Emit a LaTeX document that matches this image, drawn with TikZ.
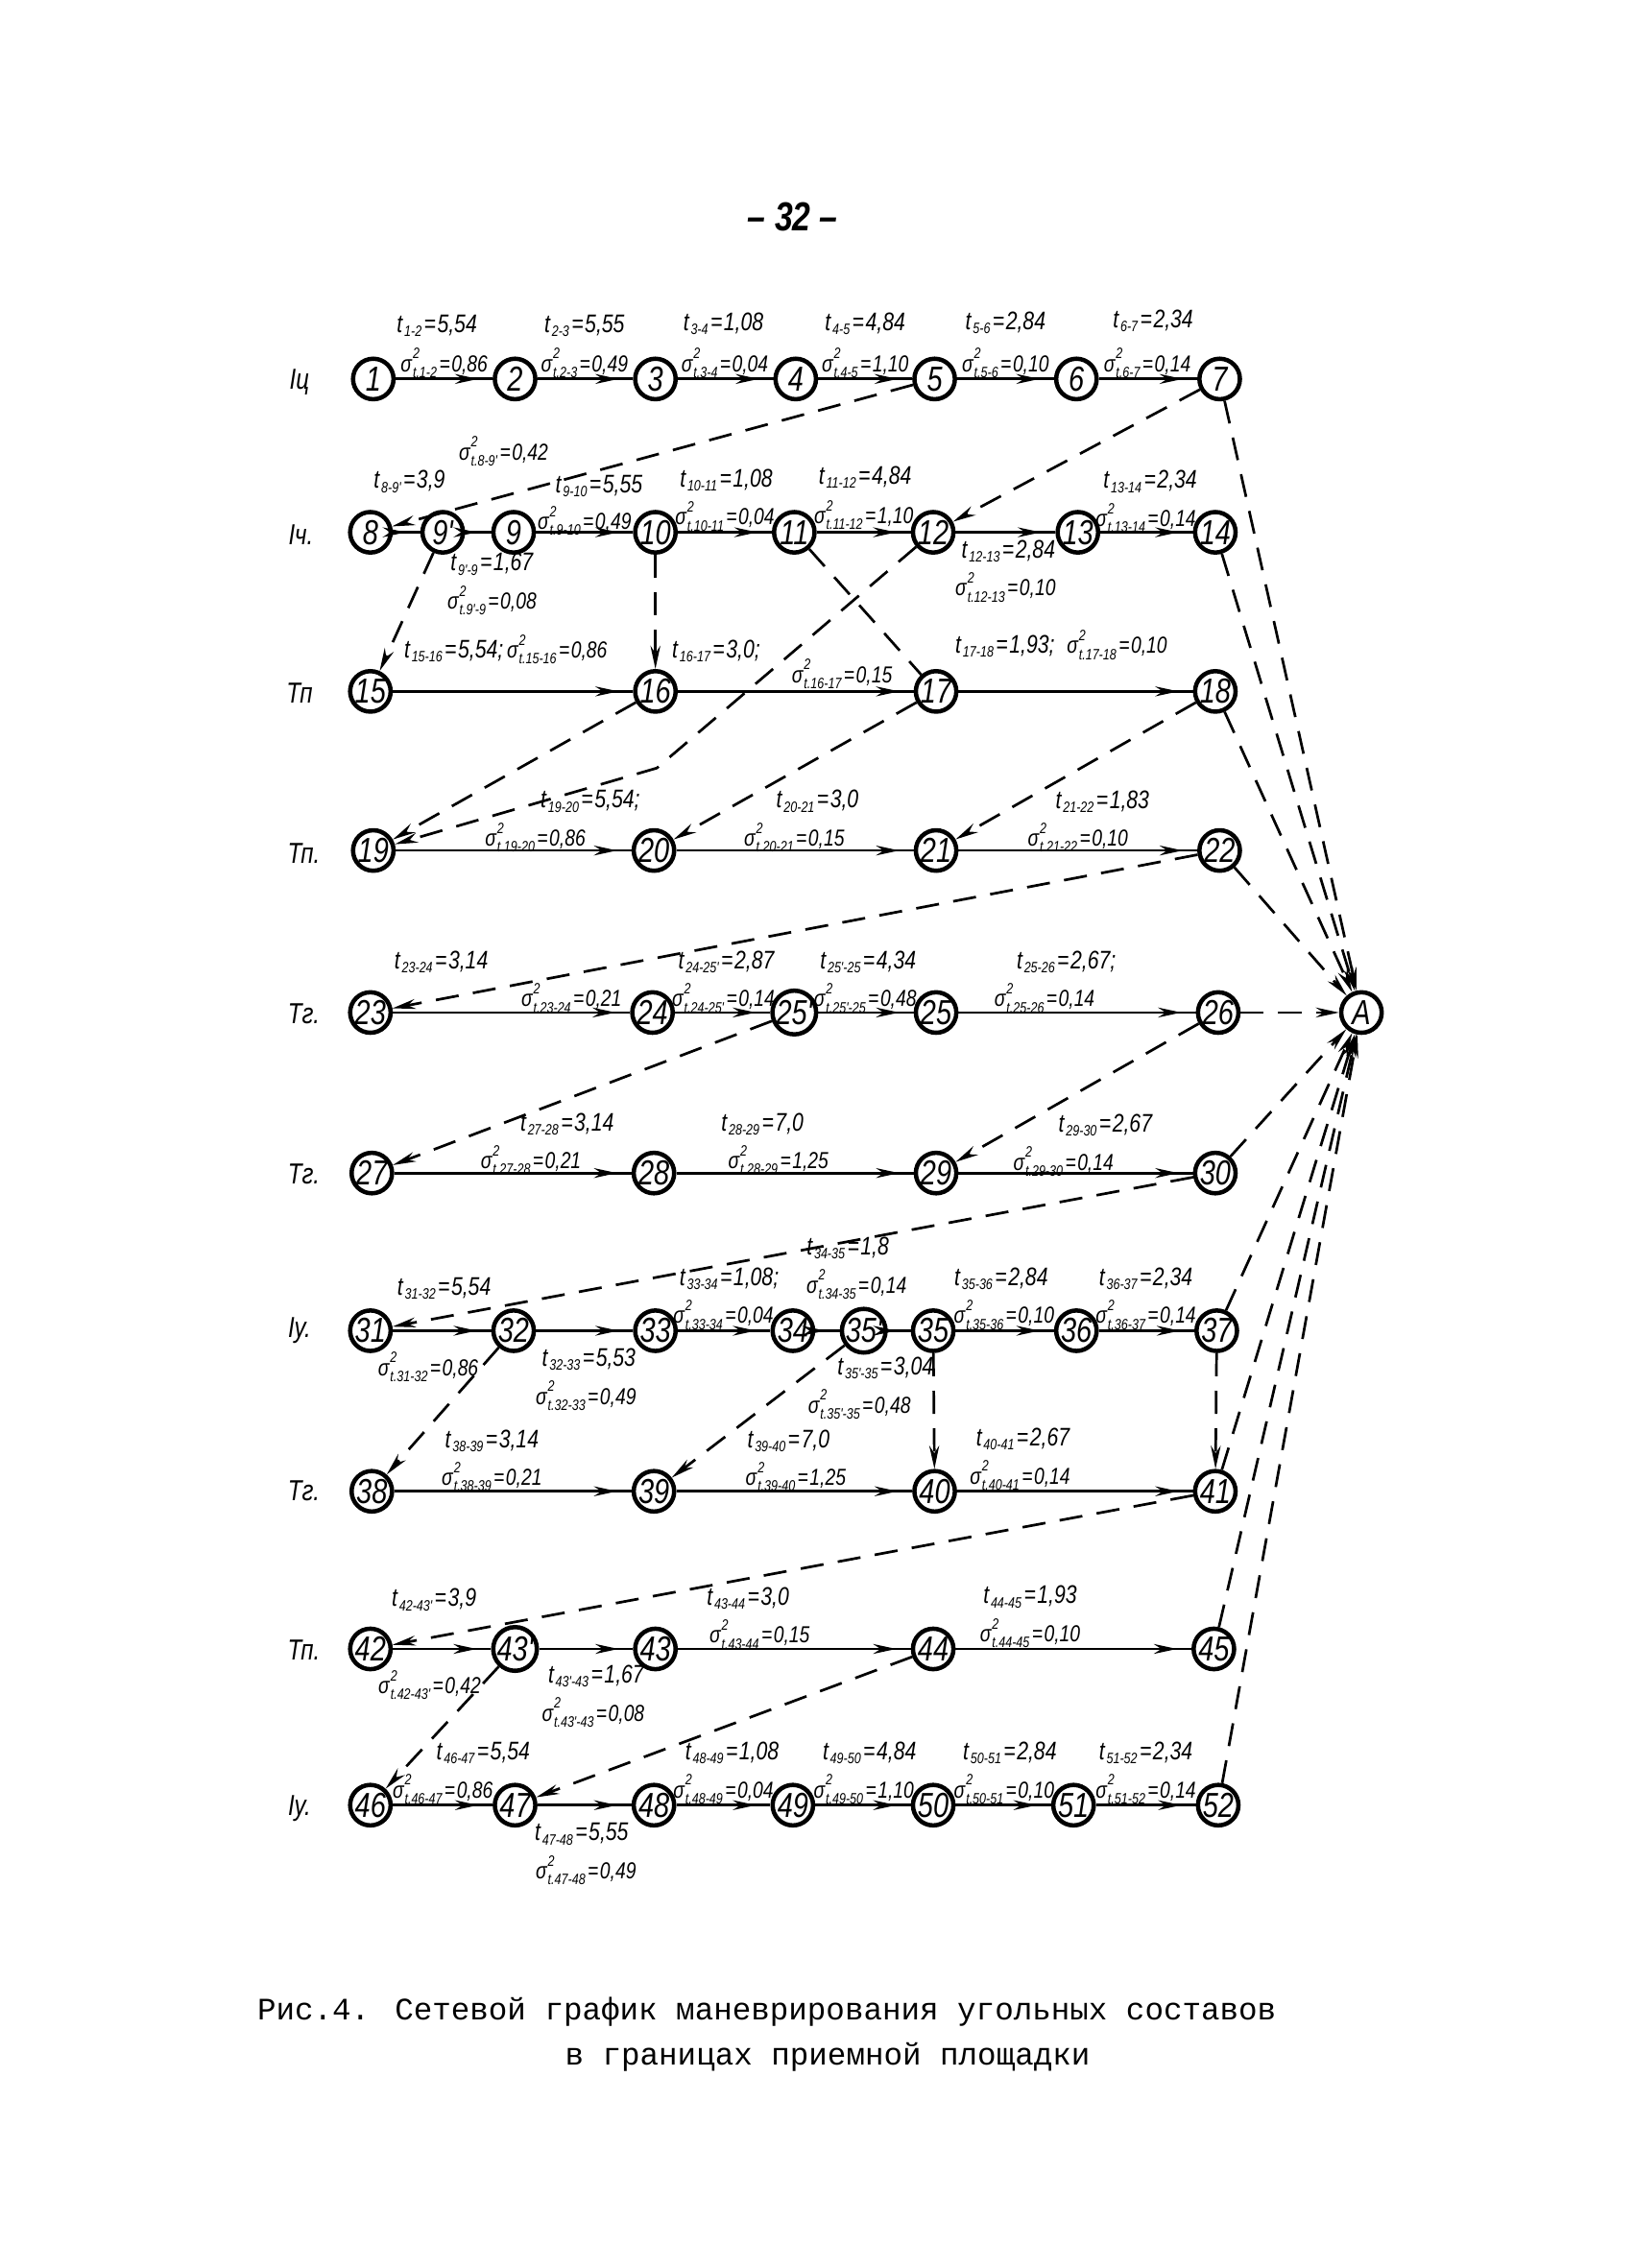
\documentclass[tikz,border=0pt]{standalone}
\usepackage{fontspec}
\setmainfont{Liberation Sans}
\newfontfamily\hand[FakeStretch=0.8]{Liberation Sans}
\newfontfamily\capfont{Liberation Mono}
\usetikzlibrary{arrows.meta,decorations.markings}
\newcommand{\subsz}{\fontsize{5.2}{5.2}\selectfont}
\newcommand{\tlab}[2]{t\kern0.6pt\raisebox{-1.4pt}{\subsz #1}\kern0.8pt=\kern0.5pt#2}
\newcommand{\slab}[2]{σ\kern0.3pt\makebox[0pt][l]{\raisebox{4.4pt}{\subsz 2}}\raisebox{-2.1pt}{\subsz t.#1}\kern0.8pt=\kern0.5pt#2}
\tikzset{
  nd/.style={circle,draw,line width=1.5pt,minimum size=14pt,inner sep=0pt,
    font=\hand\itshape\fontsize{12}{12}\selectfont},
  lab/.style={inner sep=0pt,font=\hand\itshape\fontsize{8}{8}\selectfont},
  labt/.style={inner sep=0pt,font=\hand\itshape\fontsize{8.8}{8.8}\selectfont},
  rowlab/.style={inner sep=0pt,font=\hand\itshape\fontsize{10}{10}\selectfont},
  sl/.style={line width=0.9pt,postaction={decorate},
    decoration={markings,mark=at position -5pt with {\arrow{Stealth[length=8pt,width=3.4pt]}}}},
  dl/.style={line width=0.9pt,dash pattern=on 8pt off 5pt,-{Stealth[length=8pt,width=3.4pt]}},
  dn/.style={line width=0.9pt,dash pattern=on 8pt off 5pt},
}
\begin{document}
\begin{tikzpicture}[x=0.5pt,y=-0.5pt]
\fill[white] (0,0) rectangle (1129,1568);
\useasboundingbox (0,0) rectangle (1129,1568);

% title
\node[inner sep=0pt,font=\hand\itshape\bfseries\fontsize{14}{14}\selectfont] (title) at (548,150) {– 32 –};

% row labels
\node[rowlab] (r1) at (207,264) {Iц};
\node[rowlab] (r2) at (208,370) {Iч.};
\node[rowlab] (r3) at (207,479) {Тп};
\node[rowlab] (r4) at (210,590) {Тп.};
\node[rowlab] (r5) at (210,701) {Тг.};
\node[rowlab] (r6) at (210,812) {Тг.};
\node[rowlab] (r7) at (207,920) {Iу.};
\node[rowlab] (r8) at (210,1031) {Тг.};
\node[rowlab] (r9) at (210,1141) {Тп.};
\node[rowlab] (r10) at (207,1250) {Iу.};

% nodes row 1
\node[nd] (n1) at (258,262) {1};
\node[nd] (n2) at (356,262) {2};
\node[nd] (n3) at (453,262) {3};
\node[nd] (n4) at (550,262) {4};
\node[nd] (n5) at (646,262) {5};
\node[nd] (n6) at (744,262) {6};
\node[nd] (n7) at (843,262) {7};
% row 2
\node[nd] (n8) at (256,368) {8};
\node[nd] (n9p) at (306,368) {9'};
\node[nd] (n9) at (355,368) {9};
\node[nd] (n10) at (453,368) {10};
\node[nd] (n11) at (549,368) {11};
\node[nd] (n12) at (645,368) {12};
\node[nd] (n13) at (745,368) {13};
\node[nd] (n14) at (840,368) {14};
% row 3
\node[nd] (n15) at (256,478) {15};
\node[nd] (n16) at (453,478) {16};
\node[nd] (n17) at (647,478) {17};
\node[nd] (n18) at (840,478) {18};
% row 4
\node[nd] (n19) at (258,588) {19};
\node[nd] (n20) at (452,588) {20};
\node[nd] (n21) at (647,588) {21};
\node[nd] (n22) at (843,588) {22};
% row 5
\node[nd] (n23) at (256,700) {23};
\node[nd] (n24) at (451,700) {24};
\node[nd] (n25p) at (549,700) {25'};
\node[nd] (n25) at (647,700) {25};
\node[nd] (n26) at (842,700) {26};
\node[nd] (A) at (941,700) {A};
% row 6
\node[nd] (n27) at (257,811) {27};
\node[nd] (n28) at (452,811) {28};
\node[nd] (n29) at (647,811) {29};
\node[nd] (n30) at (840,811) {30};
% row 7
\node[nd] (n31) at (256,920) {31};
\node[nd] (n32) at (355,920) {32};
\node[nd] (n33) at (453,920) {33};
\node[nd] (n34) at (548,920) {34};
\node[nd] (n35p) at (597,920) {35'};
\node[nd] (n35) at (645,920) {35};
\node[nd] (n36) at (744,920) {36};
\node[nd] (n37) at (841,920) {37};
% row 8
\node[nd] (n38) at (257,1031) {38};
\node[nd] (n39) at (452,1031) {39};
\node[nd] (n40) at (646,1031) {40};
\node[nd] (n41) at (840,1031) {41};
% row 9
\node[nd] (n42) at (256,1140) {42};
\node[nd] (n43p) at (356,1140) {43'};
\node[nd] (n43) at (453,1140) {43};
\node[nd] (n44) at (645,1140) {44};
\node[nd] (n45) at (839,1140) {45};
% row 10
\node[nd] (n46) at (256,1248) {46};
\node[nd] (n47) at (356,1248) {47};
\node[nd] (n48) at (452,1248) {48};
\node[nd] (n49) at (548,1248) {49};
\node[nd] (n50) at (645,1248) {50};
\node[nd] (n51) at (742,1248) {51};
\node[nd] (n52) at (842,1248) {52};

% solid edges
\draw[sl] (n1) -- (n2);
\draw[sl] (n2) -- (n3);
\draw[sl] (n3) -- (n4);
\draw[sl] (n4) -- (n5);
\draw[sl] (n5) -- (n6);
\draw[sl] (n6) -- (n7);
\draw[sl] (n8) -- (n9p);
\draw[sl] (n9p) -- (n9);
\draw[sl] (n9) -- (n10);
\draw[sl] (n10) -- (n11);
\draw[sl] (n11) -- (n12);
\draw[sl] (n12) -- (n13);
\draw[sl] (n13) -- (n14);
\draw[sl] (n15) -- (n16);
\draw[sl] (n16) -- (n17);
\draw[sl] (n17) -- (n18);
\draw[sl] (n19) -- (n20);
\draw[sl] (n20) -- (n21);
\draw[sl] (n21) -- (n22);
\draw[sl] (n23) -- (n24);
\draw[sl] (n24) -- (n25p);
\draw[sl] (n25p) -- (n25);
\draw[sl] (n25) -- (n26);
\draw[sl] (n27) -- (n28);
\draw[sl] (n28) -- (n29);
\draw[sl] (n29) -- (n30);
\draw[sl] (n31) -- (n32);
\draw[sl] (n32) -- (n33);
\draw[sl] (n33) -- (n34);
\draw[sl] (n34) -- (n35p);
\draw[sl] (n35p) -- (n35);
\draw[sl] (n35) -- (n36);
\draw[sl] (n36) -- (n37);
\draw[sl] (n38) -- (n39);
\draw[sl] (n39) -- (n40);
\draw[sl] (n40) -- (n41);
\draw[sl] (n42) -- (n43p);
\draw[sl] (n43p) -- (n43);
\draw[sl] (n43) -- (n44);
\draw[sl] (n44) -- (n45);
\draw[sl] (n46) -- (n47);
\draw[sl] (n47) -- (n48);
\draw[sl] (n48) -- (n49);
\draw[sl] (n49) -- (n50);
\draw[sl] (n50) -- (n51);
\draw[sl] (n51) -- (n52);

% dashed edges
\coordinate (b1) at (454,531);
\draw[dl] (n5) -- (n8);
\draw[dl] (n7) -- (n12);
\draw[dl] (n9p) -- (n15);
\draw[dl] (n10) -- (n16);
\draw[dn] (n11) -- (n17);
\draw[dl] (n12) -- (b1) -- (n19);
\draw[dl] (n16) -- (n19);
\draw[dl] (n17) -- (n20);
\draw[dl] (n18) -- (n21);
\draw[dl] (n22) -- (n23);
\draw[dl] (n25p) -- (n27);
\draw[dl] (n26) -- (n29);
\draw[dl] (n30) -- (n31);
\draw[dl] (n32) -- (n38);
\draw[dl] (n35p) -- (n39);
\draw[dl] (n35) -- (n40);
\draw[dl] (n37) -- (n41);
\draw[dl] (n41) -- (n42);
\draw[dl] (n43p) -- (n46);
\draw[dl] (n44) -- (n47);
% to A
\draw[dl] (n7) -- (A);
\draw[dl] (n14) -- (A);
\draw[dl] (n18) -- (A);
\draw[dl] (n22) -- (A);
\draw[dl] (n26) -- (A);
\draw[dl] (n30) -- (A);
\draw[dl] (n37) -- (A);
\draw[dl] (n41) -- (A);
\draw[dl] (n45) -- (A);
\draw[dl] (n52) -- (A);

% labels row 1
\node[labt] (t12) at (302,225) {\tlab{1-2}{5,54}};
\node[lab] (s12) at (307,251) {\slab{1-2}{0,86}};
\node[labt] (t23) at (404,225) {\tlab{2-3}{5,55}};
\node[lab] (s23) at (404,251) {\slab{2-3}{0,49}};
\node[labt] (t34) at (500,224) {\tlab{3-4}{1,08}};
\node[lab] (s34) at (501,251) {\slab{3-4}{0,04}};
\node[labt] (t45) at (598,224) {\tlab{4-5}{4,84}};
\node[lab] (s45) at (598,251) {\slab{4-5}{1,10}};
\node[labt] (t56) at (695,223) {\tlab{5-6}{2,84}};
\node[lab] (s56) at (695,251) {\slab{5-6}{0,10}};
\node[labt] (t67) at (797,222) {\tlab{6-7}{2,34}};
\node[lab] (s67) at (793,251) {\slab{6-7}{0,14}};
% row 2
\node[lab] (s89) at (348,312) {\slab{8-9'}{0,42}};
\node[labt] (t89) at (283,333) {\tlab{8-9'}{3,9}};
\node[labt] (t910) at (414,336) {\tlab{9-10}{5,55}};
\node[lab] (s910) at (404,360) {\slab{9-10}{0,49}};
\node[labt] (t1011) at (502,332) {\tlab{10-11}{1,08}};
\node[lab] (s1011) at (501,357) {\slab{10-11}{0,04}};
\node[labt] (t1112) at (598,330) {\tlab{11-12}{4,84}};
\node[lab] (s1112) at (597,356) {\slab{11-12}{1,10}};
\node[labt] (t1314) at (795,333) {\tlab{13-14}{2,34}};
\node[lab] (s1314) at (792,358) {\slab{13-14}{0,14}};
\node[labt] (t1213) at (697,381) {\tlab{12-13}{2,84}};
\node[lab] (s1213) at (695,406) {\slab{12-13}{0,10}};
\node[labt] (t99) at (340,390) {\tlab{9'-9}{1,67}};
\node[lab] (s99) at (340,415) {\slab{9'-9}{0,08}};
% row 3
\node[labt,anchor=west] (t1516) at (279,450) {\tlab{15-16}{5,54};};
\node[lab,anchor=west] (s1516) at (350,449) {\slab{15-16}{0,86}};
\node[labt] (t1617) at (495,450) {\tlab{16-17}{3,0};};
\node[lab] (s1617) at (582,466) {\slab{16-17}{0,15}};
\node[labt,anchor=west] (t1718) at (660,447) {\tlab{17-18}{1,93};};
\node[lab,anchor=west] (s1718) at (737,446) {\slab{17-18}{0,10}};
% row 4
\node[labt] (t1920) at (408,554) {\tlab{19-20}{5,54};};
\node[lab] (s1920) at (370,579) {\slab{19-20}{0,86}};
\node[labt] (t2021) at (565,554) {\tlab{20-21}{3,0}};
\node[lab] (s2021) at (549,579) {\slab{20-21}{0,15}};
\node[labt] (t2122) at (762,554) {\tlab{21-22}{1,83}};
\node[lab] (s2122) at (745,579) {\slab{21-22}{0,10}};
% row 5
\node[labt] (t2324) at (305,665) {\tlab{23-24}{3,14}};
\node[lab] (s2324) at (395,690) {\slab{23-24}{0,21}};
\node[labt] (t2425) at (502,665) {\tlab{24-25'}{2,87}};
\node[lab] (s2425) at (500,690) {\slab{24-25'}{0,14}};
\node[labt] (t2525) at (600,665) {\tlab{25'-25}{4,34}};
\node[lab] (s2525) at (598,690) {\slab{25'-25}{0,48}};
\node[labt] (t2526) at (737,665) {\tlab{25-26}{2,67};};
\node[lab] (s2526) at (722,690) {\slab{25-26}{0,14}};
% row 6
\node[labt] (t2728) at (392,777) {\tlab{27-28}{3,14}};
\node[lab] (s2728) at (367,802) {\slab{27-28}{0,21}};
\node[labt] (t2829) at (527,777) {\tlab{28-29}{7,0}};
\node[lab] (s2829) at (538,802) {\slab{28-29}{1,25}};
\node[labt] (t2930) at (764,778) {\tlab{29-30}{2,67}};
\node[lab] (s2930) at (735,803) {\slab{29-30}{0,14}};
% row 7
\node[labt] (t3132) at (307,891) {\tlab{31-32}{5,54}};
\node[lab] (s3132) at (296,945) {\slab{31-32}{0,86}};
\node[labt] (t3233) at (407,940) {\tlab{32-33}{5,53}};
\node[lab] (s3233) at (405,965) {\slab{32-33}{0,49}};
\node[labt] (t3334) at (504,884) {\tlab{33-34}{1,08};};
\node[lab] (s3334) at (500,909) {\slab{33-34}{0,04}};
\node[labt] (t3435) at (586,863) {\tlab{34-35}{1,8}};
\node[lab] (s3435) at (592,888) {\slab{34-35}{0,14}};
\node[labt] (t3536) at (692,884) {\tlab{35-36}{2,84}};
\node[lab] (s3536) at (694,909) {\slab{35-36}{0,10}};
\node[labt] (t3637) at (792,884) {\tlab{36-37}{2,34}};
\node[lab] (s3637) at (792,909) {\slab{36-37}{0,14}};
\node[labt] (t3535) at (612,946) {\tlab{35'-35}{3,04}};
\node[lab] (s3535) at (594,971) {\slab{35'-35}{0,48}};
% row 8
\node[labt] (t3839) at (340,996) {\tlab{38-39}{3,14}};
\node[lab] (s3839) at (340,1021) {\slab{38-39}{0,21}};
\node[labt] (t3940) at (545,996) {\tlab{39-40}{7,0}};
\node[lab] (s3940) at (550,1021) {\slab{39-40}{1,25}};
\node[labt] (t4041) at (707,995) {\tlab{40-41}{2,67}};
\node[lab] (s4041) at (705,1020) {\slab{40-41}{0,14}};
% row 9
\node[labt] (t4243) at (300,1106) {\tlab{42-43'}{3,9}};
\node[lab] (s4243) at (297,1165) {\slab{42-43'}{0,42}};
\node[labt] (t4344) at (517,1105) {\tlab{43-44}{3,0}};
\node[lab] (s4344) at (525,1130) {\slab{43-44}{0,15}};
\node[labt] (t4445) at (712,1104) {\tlab{44-45}{1,93}};
\node[lab] (s4445) at (712,1129) {\slab{44-45}{0,10}};
\node[labt] (t4343) at (412,1159) {\tlab{43'-43}{1,67}};
\node[lab] (s4343) at (410,1184) {\slab{43'-43}{0,08}};
% row 10
\node[labt] (t4647) at (334,1212) {\tlab{46-47}{5,54}};
\node[lab] (s4647) at (306,1237) {\slab{46-47}{0,86}};
\node[labt] (t4748) at (402,1268) {\tlab{47-48}{5,55}};
\node[lab] (s4748) at (405,1293) {\slab{47-48}{0,49}};
\node[labt] (t4849) at (506,1212) {\tlab{48-49}{1,08}};
\node[lab] (s4849) at (500,1237) {\slab{48-49}{0,04}};
\node[labt] (t4950) at (601,1212) {\tlab{49-50}{4,84}};
\node[lab] (s4950) at (597,1237) {\slab{49-50}{1,10}};
\node[labt] (t5051) at (698,1212) {\tlab{50-51}{2,84}};
\node[lab] (s5051) at (694,1237) {\slab{50-51}{0,10}};
\node[labt] (t5152) at (792,1212) {\tlab{51-52}{2,34}};
\node[lab] (s5152) at (792,1237) {\slab{51-52}{0,14}};

% caption
\node[inner sep=0pt,font=\capfont\fontsize{10.8}{12}\selectfont] (cap1) at (530,1391) {Рис.4. Сетевой график маневрирования угольных составов};
\node[inner sep=0pt,font=\capfont\fontsize{10.8}{12}\selectfont] (cap2) at (572,1422) {в границах приемной площадки};
\end{tikzpicture}
\end{document}
